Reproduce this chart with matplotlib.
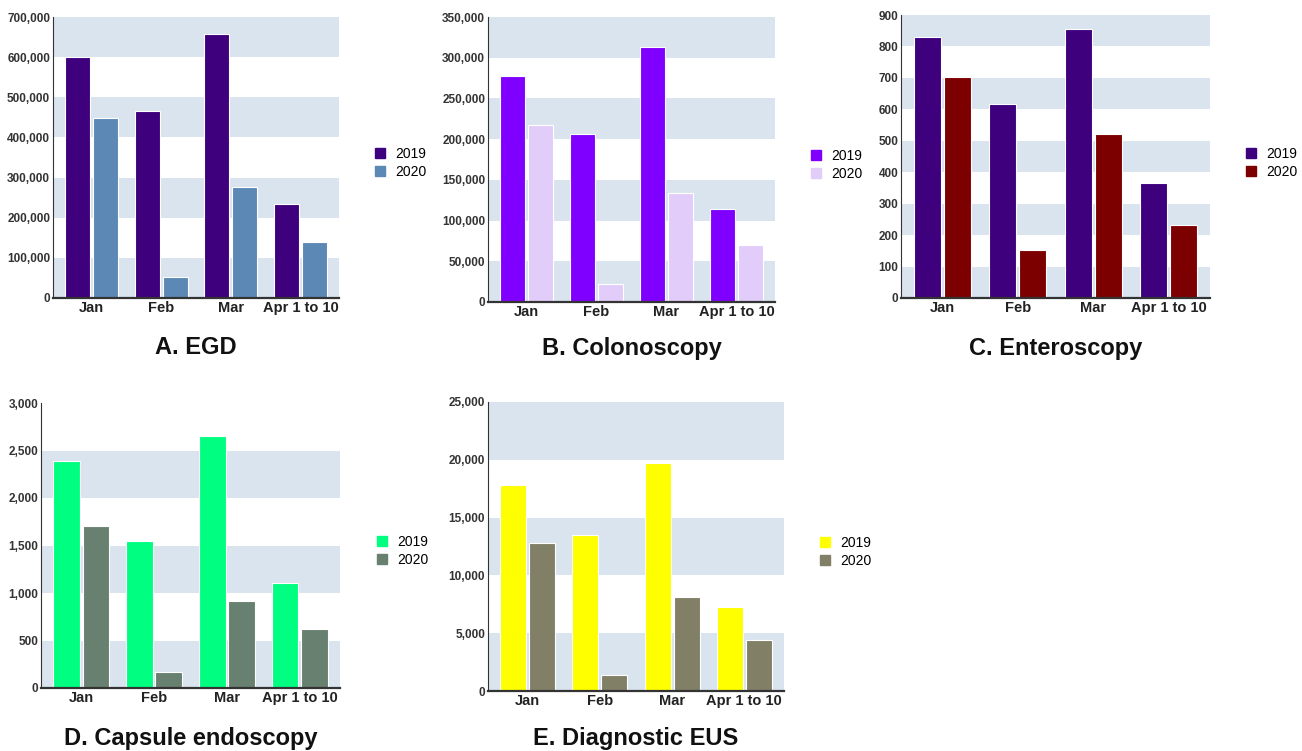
import numpy as np
import matplotlib.pyplot as plt
from matplotlib.patches import Patch

plt.rcParams['font.family'] = ['Liberation Sans', 'DejaVu Sans']

months = ['Jan', 'Feb', 'Mar', 'Apr 1 to 10']
years = ['2019', '2020']

# procedure counts
egd_2019 = [600000, 465000, 658000, 234000]
egd_2020 = [448000, 52000, 277000, 140000]
colo_2019 = [277000, 206000, 313000, 114000]
colo_2020 = [217000, 22000, 134000, 70000]
entero_2019 = [830, 617, 855, 367]
entero_2020 = [703, 153, 520, 233]
capsule_2019 = [2385, 1550, 2650, 1110]
capsule_2020 = [1710, 170, 920, 625]
eus_2019 = [17800, 13500, 19700, 7300]
eus_2020 = [12800, 1400, 8100, 4400]

W, H = 1302, 751
fig = plt.figure(figsize=(W / 100, H / 100), dpi=100)

band = '#d9e4ef'


def panel(rect, v19, v20, c19, c20, ymax, step, title, title_y, leg_x, leg_y):
    x0, y0, x1, y1 = rect  # pixel box: left, top, right, bottom
    ax = fig.add_axes([x0 / W, 1 - y1 / H, (x1 - x0) / W, (y1 - y0) / H])
    # alternating bands, blue at the bottom
    for i, lo in enumerate(np.arange(0, ymax, step)):
        if i % 2 == 0:
            ax.axhspan(lo, lo + step, color=band, zorder=0, lw=0)
    x = np.arange(len(months))
    w = 0.36
    ax.bar(x - w / 2 - 0.02, v19, w, color=c19, edgecolor='white', lw=0.8, zorder=2)
    ax.bar(x + w / 2 + 0.02, v20, w, color=c20, edgecolor='white', lw=0.8, zorder=2)
    ax.set_xlim(-0.55, 3.55)
    ax.set_ylim(0, ymax)
    ax.set_yticks(np.arange(0, ymax + 1, step))
    ax.set_yticklabels([f'{int(v):,}' for v in np.arange(0, ymax + 1, step)])
    ax.set_xticks(x)
    ax.set_xticklabels(months)
    for s in ['top', 'right']:
        ax.spines[s].set_visible(False)
    ax.spines['left'].set_color('#333333')
    ax.spines['bottom'].set_color('#333333')
    ax.spines['bottom'].set_linewidth(1.6)
    ax.tick_params(axis='y', length=0, pad=2, labelsize=8.5, labelcolor='#333333')
    ax.tick_params(axis='x', length=0, pad=2, labelsize=10.5, labelcolor='#222222')
    for t in ax.get_yticklabels():
        t.set_fontweight('bold')
    for t in ax.get_xticklabels():
        t.set_fontweight('bold')
    ax.set_facecolor('white')
    handles = [Patch(color=c19), Patch(color=c20)]
    fig.legend(handles, years, loc='center left',
               bbox_to_anchor=(leg_x / W, 1 - leg_y / H), frameon=False,
               fontsize=10, handlelength=0.75, handleheight=0.75,
               handletextpad=0.7, labelspacing=0.3,
               borderpad=0, borderaxespad=0)
    fig.text((x0 + x1) / 2 / W, 1 - title_y / H, title, ha='center', va='center',
             fontsize=17, fontweight='bold', color='#111111')
    return ax


panel((53, 17, 339, 298), egd_2019, egd_2020, '#3f007d', '#5b88b5',
      700000, 100000, 'A. EGD', 348, 375, 163)
panel((488, 17, 775, 302), colo_2019, colo_2020, '#8000ff', '#e2cdfa',
      350000, 50000, 'B. Colonoscopy', 348, 811, 165)
panel((901, 15, 1210, 298), entero_2019, entero_2020, '#3e007d', '#7d0000',
      900, 100, 'C. Enteroscopy', 348, 1246, 163)
panel((41, 403, 340, 688), capsule_2019, capsule_2020, '#00ff80', '#68806f',
      3000, 500, 'D. Capsule endoscopy', 738, 377, 551)
panel((488, 402, 784, 691), eus_2019, eus_2020, '#ffff00', '#817f66',
      25000, 5000, 'E. Diagnostic EUS', 738, 820, 552)

fig.savefig('out.png', dpi=100)
